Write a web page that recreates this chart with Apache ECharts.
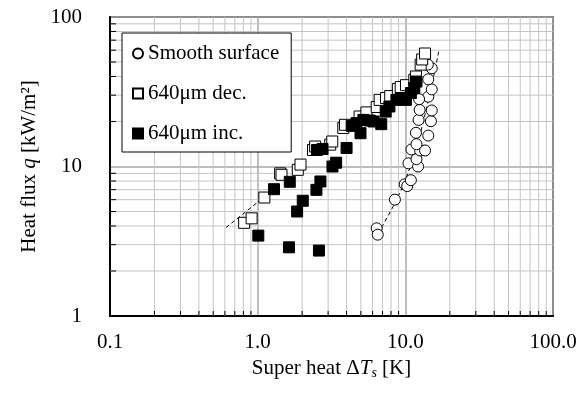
<!DOCTYPE html>
<html>
<head>
<meta charset="utf-8">
<script src="https://cdn.jsdelivr.net/npm/echarts@6/dist/echarts.min.js"></script>
<style>
  html, body { margin: 0; padding: 0; background: #fff; }
  #chart { width: 586px; height: 394px; }
</style>
</head>
<body>
<div id="chart"></div>
<script>
// smooth surface (open circles)
const smoothX = [6.4, 6.5, 8.5, 9.9, 10.3, 10.9, 10.5, 12.2, 11.9, 11.0, 12.6, 13.6, 11.9, 11.8, 14.3, 12.3, 14.9, 12.5, 15.1, 14.3, 12.4, 15.1, 14.3, 15.1, 14.2]
const smoothY = [3.86, 3.5, 6.0, 7.6, 7.4, 8.1, 10.5, 10.0, 11.2, 13.0, 12.8, 12.8, 14.1, 16.8, 16.1, 20.5, 20.1, 23.9, 23.7, 29.3, 28.2, 32.8, 38.3, 45.4, 48]

// 640um decreasing (open squares)
const decX = [0.81, 0.91, 1.11, 1.42, 1.45, 1.87, 1.95, 2.37, 2.45, 3.1, 3.2, 3.8, 3.9, 4.9, 5.45, 6.4, 6.7, 7.4, 7.9, 8.9, 9.3, 10.1, 11.5, 11.8, 12.7, 13.0, 13.6]
const decY = [4.2, 4.5, 6.2, 9.0, 8.8, 9.5, 10.3, 12.9, 13.6, 14.0, 14.7, 18.1, 19.0, 21.6, 23.0, 25.0, 27.9, 28.7, 29.6, 33, 34, 35, 38, 40, 48, 52, 57]

// 640um increasing (filled squares)
const incX = [1.01, 1.63, 2.6, 1.29, 1.65, 1.85, 2.02, 2.5, 2.66, 2.52, 2.75, 3.21, 3.4, 4.0, 4.33, 4.67, 4.97, 5.2, 5.74, 6.1, 6.87, 7.36, 7.8, 8.7, 9.3, 10.1, 10.9, 11.5, 11.9]
const incY = [3.45, 2.88, 2.74, 7.05, 7.9, 5.0, 5.9, 6.98, 7.94, 12.9, 13.1, 10.0, 10.6, 13.3, 18.7, 19.5, 16.7, 20.5, 20.3, 20.0, 19.2, 23.3, 25.2, 27.9, 28.7, 27.9, 31, 33.5, 37]

// dashed guide lines
const fitDecX = [0.61, 1.05]
const fitDecY = [3.9, 6.0]
const fitSmoothX = [6.9, 8.5, 10.2, 12.5, 14.8, 16.9]
const fitSmoothY = [3.9, 5.7, 8.5, 16, 32, 60]

// minor grid positions
const minorX = [0.2, 0.3, 0.4, 0.5, 0.6, 0.7, 0.8, 0.9, 2, 3, 4, 5, 6, 7, 8, 9, 20, 30, 40, 50, 60, 70, 80, 90]
const minorY = [2, 3, 4, 5, 6, 7, 8, 9, 20, 30, 40, 50, 60, 70, 80, 90]

const zip = (xs, ys) => xs.map((x, i) => [x, ys[i]])
const font = 'Liberation Serif, Times New Roman, serif'

const gridData = minorX.map((v) => [v, 10, 0]).concat(minorY.map((v) => [1, v, 1]))

const chart = echarts.init(document.getElementById('chart'))

chart.setOption({
  animation: false,
  grid: {
    left: 110, right: 33, top: 17, bottom: 78,
    show: true, borderColor: '#000', borderWidth: 1.5,
  },
  legend: {
    data: ['Smooth surface', '640μm dec.', '640μm inc.'],
    orient: 'vertical',
    left: 122,
    top: 33,
    padding: [10, 12, 8, 10],
    itemGap: 19,
    itemWidth: 10,
    itemHeight: 10,
    borderColor: '#000',
    borderWidth: 1,
    backgroundColor: '#fff',
    textStyle: { fontFamily: font, fontSize: 21, color: '#000', lineHeight: 20 },
  },
  xAxis: {
    type: 'log',
    logBase: 10,
    min: 0.1,
    max: 100,
    name: '{n|Super heat Δ}{i|T}{s|s}{n| [K]}',
    nameLocation: 'middle',
    nameGap: 32,
    nameTextStyle: {
      rich: {
        n: { fontFamily: font, fontSize: 21, color: '#000' },
        i: { fontFamily: font, fontSize: 21, fontStyle: 'italic', color: '#000' },
        s: { fontFamily: font, fontSize: 14, fontStyle: 'italic', color: '#000', padding: [10, 0, 0, 0] },
      },
    },
    axisLine: { lineStyle: { color: '#000', width: 2 } },
    axisTick: { show: false },
    axisLabel: {
      fontFamily: font, fontSize: 21, color: '#000', margin: 16,
      formatter: (v) => Number(v).toFixed(1),
    },
    splitLine: { show: true, lineStyle: { color: '#a8a8a8', width: 1.5 } },
  },
  yAxis: {
    type: 'log',
    logBase: 10,
    min: 1,
    max: 100,
    name: '{n|Heat flux }{i|q}{n| [kW/m²]}',
    nameLocation: 'middle',
    nameGap: 70,
    nameTextStyle: {
      rich: {
        n: { fontFamily: font, fontSize: 21, color: '#000' },
        i: { fontFamily: font, fontSize: 21, fontStyle: 'italic', color: '#000' },
      },
    },
    axisLine: { lineStyle: { color: '#000', width: 2 } },
    axisTick: { show: false },
    axisLabel: {
      fontFamily: font, fontSize: 21, color: '#000', margin: 28,
      formatter: (v) => String(Math.round(v)),
    },
    splitLine: { show: true, lineStyle: { color: '#a8a8a8', width: 1.5 } },
  },
  series: [
    {
      name: 'minorGrid',
      type: 'custom',
      silent: true,
      z: 1,
      data: gridData,
      renderItem: (params, api) => {
        const v = api.value(0)
        if (api.value(2) === 0) {
          const p0 = api.coord([v, 1])
          const p1 = api.coord([v, 100])
          return {
            type: 'group',
            children: [
              { type: 'line', shape: { x1: p0[0], y1: p0[1], x2: p1[0], y2: p1[1] }, style: { stroke: '#c4c4c4', lineWidth: 1 } },
              { type: 'line', shape: { x1: p0[0], y1: p0[1], x2: p0[0], y2: p0[1] - 5 }, style: { stroke: '#000', lineWidth: 1 } },
            ],
          }
        }
        const w = api.value(1)
        const p0 = api.coord([0.1, w])
        const p1 = api.coord([100, w])
        return {
          type: 'group',
          children: [
            { type: 'line', shape: { x1: p0[0], y1: p0[1], x2: p1[0], y2: p1[1] }, style: { stroke: '#c4c4c4', lineWidth: 1 } },
            { type: 'line', shape: { x1: p0[0], y1: p0[1], x2: p0[0] + 6, y2: p0[1] }, style: { stroke: '#000', lineWidth: 1 } },
          ],
        }
      },
    },
    {
      name: 'fitDec',
      type: 'line',
      data: zip(fitDecX, fitDecY),
      symbol: 'none',
      z: 2,
      lineStyle: { color: '#000', width: 1, type: [4, 3] },
    },
    {
      name: 'fitSmooth',
      type: 'line',
      data: zip(fitSmoothX, fitSmoothY),
      symbol: 'none',
      smooth: 0.3,
      z: 2,
      lineStyle: { color: '#000', width: 1, type: [4, 3] },
    },
    {
      name: 'Smooth surface',
      type: 'scatter',
      data: zip(smoothX, smoothY),
      symbol: 'circle',
      symbolSize: 11,
      z: 3,
      itemStyle: { color: '#fff', borderColor: '#000', borderWidth: 1, opacity: 1 },
    },
    {
      name: '640μm dec.',
      type: 'scatter',
      data: zip(decX, decY),
      symbol: 'rect',
      symbolSize: 11,
      z: 4,
      itemStyle: { color: '#fff', borderColor: '#000', borderWidth: 1, opacity: 1 },
    },
    {
      name: '640μm inc.',
      type: 'scatter',
      data: zip(incX, incY),
      symbol: 'rect',
      symbolSize: 11,
      z: 5,
      itemStyle: { color: '#000', borderColor: '#000', borderWidth: 1, opacity: 1 },
    },
  ],
})
</script>
</body>
</html>
